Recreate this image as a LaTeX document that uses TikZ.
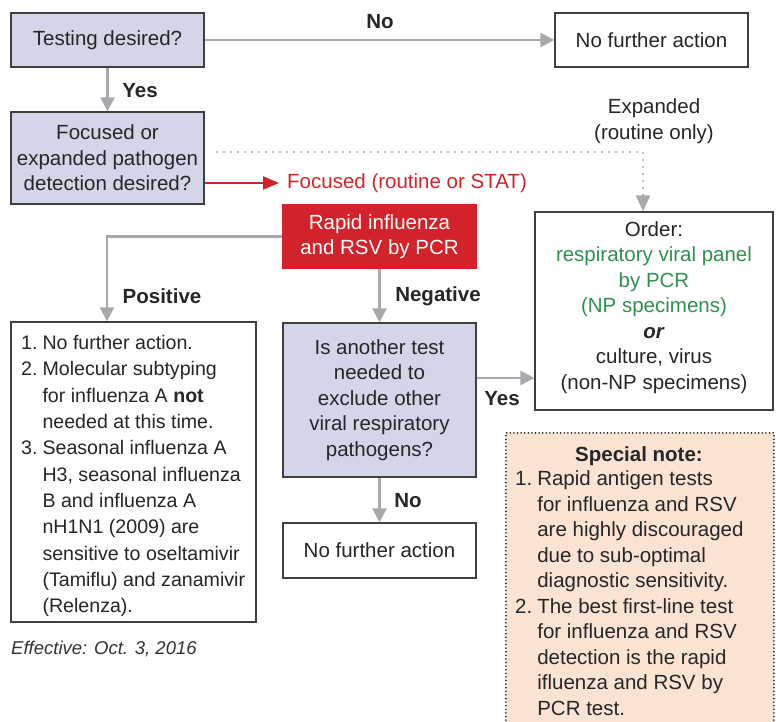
\documentclass[tikz,border=0pt]{standalone}
\usepackage{fontspec}
\setmainfont{Liberation Sans}
\usetikzlibrary{arrows.meta}
\definecolor{lav}{HTML}{D3D6E8}
\definecolor{bdr}{HTML}{3F3F3F}
\definecolor{agray}{HTML}{A7A9AC}
\definecolor{fred}{HTML}{D2232A}
\definecolor{fgreen}{HTML}{2E9150}
\definecolor{peach}{HTML}{FBE3D3}
\newcommand\fsz{\fontsize{20.5}{25.5}\selectfont}
\begin{document}
\begin{tikzpicture}[x=1pt,y=-1pt,
  box/.style={draw=bdr, line width=1.3pt, inner sep=0pt, align=center, font=\fsz, text=black!85},
  qbox/.style={box, fill=lav},
  lbl/.style={font=\fsz\bfseries, text=black!85, inner sep=0pt},
  txt/.style={font=\fsz, text=black!85, inner sep=0pt, align=center},
  garrow/.style={draw=agray, line width=2.6pt, -{Triangle[width=14pt,length=14pt]}},
  rarrow/.style={draw=fred, line width=2.4pt, -{Triangle[width=13pt,length=16pt]}},
  dotline/.style={draw=agray, line width=2.2pt, line cap=round, dash pattern=on 0pt off 7pt}
]
\useasboundingbox (0,0) rectangle (776,722);

% boxes
\node[qbox, minimum width=193pt, minimum height=54pt] (test) at (107.5,40) {Testing desired?};
\node[box, minimum width=193pt, minimum height=54pt] (nofa1) at (651.5,40) {No further action};
\node[qbox, minimum width=193pt, minimum height=92pt] (focused) at (107.5,158) {Focused or\\expanded pathogen\\detection desired?};
\node[box, draw=fred, fill=fred, text=white, minimum width=193pt, minimum height=63pt] (rapid) at (379.5,236.5) {Rapid influenza\\and RSV by PCR};
\node[box, minimum width=238pt, minimum height=198pt] (order) at (654,311) {};
\node[txt] (ordertxt) at (654,307.5) {Order:\\\textcolor{fgreen}{respiratory viral panel}\\\textcolor{fgreen}{by PCR}\\\textcolor{fgreen}{(NP specimens)}\\\textbf{\textit{or}}\\culture, virus\\(non-NP specimens)};
\node[qbox, minimum width=193pt, minimum height=154pt] (another) at (379.5,400) {Is another test\\needed to\\exclude other\\viral respiratory\\pathogens?};
\node[box, minimum width=193pt, minimum height=55pt] (nofa2) at (379.5,550.5) {No further action};
\node[box, minimum width=245pt, minimum height=300pt] (left) at (133.5,472) {};
\node[txt, font=\fontsize{19.6}{26.3}\selectfont, anchor=north west, align=left] (lefttxt) at (21,331) {%
\begin{tabular}{@{}r@{\hspace{5pt}}l@{}}
1. & No further action.\\
2. & Molecular subtyping\\
   & for influenza A \textbf{not}\\
   & needed at this time.\\
3. & Seasonal influenza A\\
   & H3, seasonal influenza\\
   & B and influenza A\\
   & nH1N1 (2009) are\\
   & sensitive to oseltamivir\\
   & (Tamiflu) and zanamivir\\
   & (Relenza).
\end{tabular}};
\node[font=\fontsize{18.5}{22}\selectfont\itshape, text=black!80, anchor=base west, inner sep=0pt] (eff) at (11,654) {Effective: Oct. 3, 2016};

% special note
\node[draw=black!90, line width=1.8pt, dash pattern=on 0pt off 3.6pt, line cap=round, fill=peach, anchor=north west, minimum width=268pt, minimum height=300pt, inner sep=0pt] (special) at (505,432) {};
\node[txt, anchor=north, align=center] (spechead) at (639,446) {\textbf{Special note:}};
\node[txt, anchor=north west, align=left] (spectxt) at (515,467.5) {%
\begin{tabular}{@{}r@{\hspace{5pt}}l@{}}
1. & Rapid antigen tests\\
   & for influenza and RSV\\
   & are highly discouraged\\
   & due to sub-optimal\\
   & diagnostic sensitivity.\\
2. & The best first-line test\\
   & for influenza and RSV\\
   & detection is the rapid\\
   & ifluenza and RSV by\\
   & PCR test.
\end{tabular}};

% labels
\node[lbl] (lno1) at (380,22) {No};
\node[lbl] (lyes1) at (140,91) {Yes};
\node[txt] (lexp) at (654,121) {Expanded\\(routine only)};
\node[txt, text=fred, anchor=west] (lfoc) at (287,183) {Focused (routine or STAT)};
\node[lbl] (lpos) at (162,296) {Positive};
\node[lbl] (lneg) at (438,296) {Negative};
\node[lbl] (lyes2) at (502,399) {Yes};
\node[lbl] (lno2) at (408,501) {No};

% connectors
\coordinate (redend) at (279,183);
\coordinate (dstart) at (217,152);
\coordinate (dcorner) at (643,152);
\coordinate (poscorner) at (107,236.5);
\coordinate (yesy) at (0,378);

\draw[garrow] (test) -- (nofa1);
\draw[garrow] (test) -- (focused);
\draw[rarrow] (focused.east |- redend) -- (redend);
\draw[dotline] (dstart) -- (dcorner) -- ([yshift=18pt]dcorner |- order.north);
\draw[draw=agray, line width=2.2pt, -{Triangle[width=14pt,length=16pt]}] ([yshift=17pt]dcorner |- order.north) -- (dcorner |- order.north);
\draw[garrow] (rapid.west) -- (poscorner) -- (poscorner |- left.north);
\draw[garrow] (rapid) -- (another);
\draw[garrow] (another.east |- yesy) -- (order.west |- yesy);
\draw[garrow] (another) -- (nofa2);
\end{tikzpicture}
\end{document}
